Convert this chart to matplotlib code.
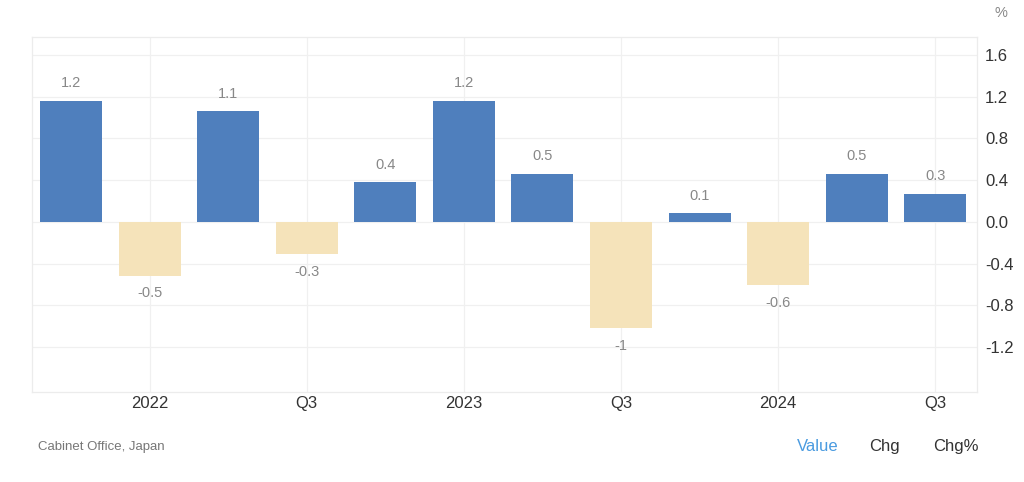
import matplotlib.pyplot as plt

plt.rcParams['font.family'] = ['Liberation Sans', 'DejaVu Sans']

# quarterly GDP growth, 2021 Q4 .. 2024 Q3
quarters = ['Q4', 'Q1', 'Q2', 'Q3', 'Q4', 'Q1', 'Q2', 'Q3', 'Q4', 'Q1', 'Q2', 'Q3']
values = [1.16, -0.52, 1.06, -0.31, 0.38, 1.16, 0.46, -1.02, 0.08, -0.61, 0.46, 0.27]
tickPos = [1, 3, 5, 7, 9, 11]
tickLabels = ['2022', 'Q3', '2023', 'Q3', '2024', 'Q3']
yTicks = [-1.2, -0.8, -0.4, 0.0, 0.4, 0.8, 1.2, 1.6]

blue = '#4f7fbd'
beige = '#f5e3ba'

fig = plt.figure(figsize=(10.24, 4.82), dpi=100)
ax = fig.add_axes([0.031, 0.187, 0.923, 0.736])

x = list(range(len(values)))
colors = [blue if v >= 0 else beige for v in values]
ax.bar(x, values, width=0.79, color=colors, zorder=2)

# value labels above / below bars
for xi, v in zip(x, values):
    r = round(v, 1)
    txt = f'{r:.0f}' if r == int(r) else f'{r:.1f}'
    if v >= 0:
        ax.text(xi, v + 0.1, txt, ha='center', va='bottom', fontsize=10.5, color='#888888')
    else:
        ax.text(xi, v - 0.1, txt, ha='center', va='top', fontsize=10.5, color='#888888')

ax.set_xlim(-0.5, 11.53)
ax.set_ylim(-1.63, 1.77)
ax.set_xticks(tickPos)
ax.set_xticklabels(tickLabels, fontsize=12, color='#333333')
ax.set_yticks(yTicks)
ax.set_yticklabels([f'{t:.1f}' for t in yTicks], fontsize=12, color='#333333')
ax.yaxis.tick_right()
ax.tick_params(axis='both', length=0)
ax.tick_params(axis='y', pad=6)
ax.tick_params(axis='x', pad=3)
ax.grid(True, color='#f0f0f0', linewidth=0.9, zorder=0)
ax.set_axisbelow(True)
for side in ['top', 'right', 'left', 'bottom']:
    ax.spines[side].set_color('#ececec')
    ax.spines[side].set_linewidth(0.9)

fig.text(0.977, 0.972, '%', ha='center', va='center', fontsize=10.5, color='#888888')
fig.text(0.037, 0.073, 'Cabinet Office, Japan', ha='left', va='center', fontsize=9.5, color='#777777')
fig.text(0.799, 0.073, 'Value', ha='center', va='center', fontsize=12, color='#4a9be0')
fig.text(0.864, 0.073, 'Chg', ha='center', va='center', fontsize=12, color='#333333')
fig.text(0.933, 0.073, 'Chg%', ha='center', va='center', fontsize=12, color='#333333')

fig.savefig('out.png', dpi=100)
